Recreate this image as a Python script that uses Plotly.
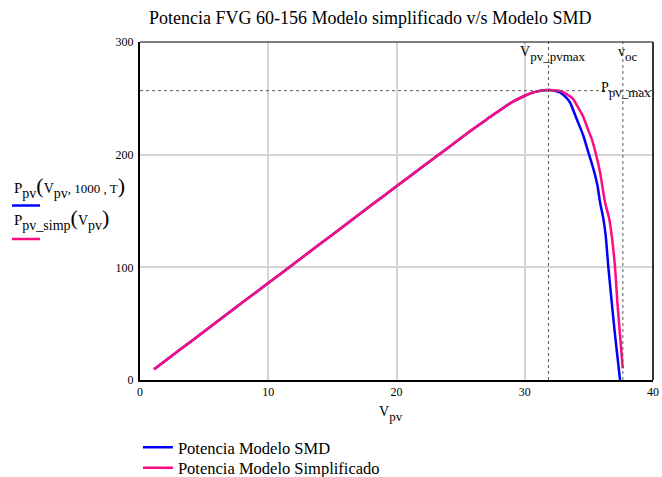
import plotly.graph_objects as go

# ---- data ----
v_rise = [1.1, 2, 4, 6, 8, 10, 12, 14, 16, 18, 20, 22, 24, 26, 27, 28, 29, 30, 30.5, 31, 31.5, 31.9]
p_rise = [9.5, 17.3, 34.5, 51.7, 68.9, 86, 103.2, 120.4, 137.6, 154.8, 172, 189, 206, 223, 231, 239,
          246.5, 252.3, 254.6, 256.2, 257.1, 257.4]

v_smd = v_rise + [32.4, 32.75, 33.2, 33.53, 34.05, 34.57, 34.96, 35.35, 35.67, 35.87, 36.13, 36.31,
                  36.52, 36.78, 37.04, 37.43]
p_smd = p_rise + [256.5, 255.2, 251, 246.3, 231.6, 216.8, 202, 187.4, 172.6, 157.8, 143, 128.3,
                  100, 69.3, 39.8, 0]

v_simp = v_rise + [32.4, 32.75, 33.3, 33.78, 34.2, 34.55, 34.94, 35.22, 35.56, 35.87, 36.26, 36.59,
                   36.78, 37.04, 37.22, 37.43, 37.64]
p_simp = p_rise + [257, 256.6, 253.5, 249.3, 241, 234, 222, 214, 200, 184.4, 157.8, 143,
                   128.3, 100, 69.3, 39.8, 10.3]

vpv_max = 31.85
voc = 37.65
ppv_max = 256.8

x_ticks = [0, 10, 20, 30, 40]
y_ticks = [0, 100, 200, 300]

FONT = "Liberation Serif"

fig = go.Figure()
fig.add_trace(go.Scatter(x=v_smd, y=p_smd, mode="lines", name="Potencia Modelo SMD", legend="legend",
                         line=dict(color="#0000ff", width=2.5, shape="spline", smoothing=0.6)))
fig.add_trace(go.Scatter(x=v_simp, y=p_simp, mode="lines", name="Potencia Modelo Simplificado",
                         legend="legend2",
                         line=dict(color="#ff0a80", width=2.5, shape="spline", smoothing=0.6)))

# marker lines
dot = dict(color="#5a5a5a", width=1, dash="dot")
fig.add_shape(type="line", xref="x", yref="paper", x0=vpv_max, x1=vpv_max, y0=0, y1=1, line=dot)
fig.add_shape(type="line", xref="x", yref="paper", x0=voc, x1=voc, y0=0, y1=1, line=dot)
fig.add_shape(type="line", xref="paper", yref="y", x0=0, x1=1, y0=ppv_max, y1=ppv_max, line=dot)

# frame: thin top, darker right border
fig.add_shape(type="line", xref="paper", yref="paper", x0=0, x1=1, y0=1, y1=1,
              line=dict(color="black", width=1))
fig.add_shape(type="line", xref="paper", yref="paper", x0=1, x1=1, y0=0, y1=1,
              line=dict(color="#333333", width=2))

def sp(t, s):
    return f"<span style='font-size:{s}px'>{t}</span>"

def sub(t, s=13):
    return f"<sub>{sp(t, s)}</sub>"

ann = []
# marker labels
ann.append(dict(text=sp("V", 14) + sub("pv_pvmax"), x=(518 - 140) / 513, y=0.964,
                xref="paper", yref="paper", xanchor="left", yanchor="middle",
                showarrow=False, font=dict(family=FONT, size=26, color="black")))
ann.append(dict(text=sp("v", 14) + sub("oc"), x=(616 - 140) / 513, y=0.964,
                xref="paper", yref="paper", xanchor="left", yanchor="middle",
                showarrow=False, font=dict(family=FONT, size=26, color="black")))
ann.append(dict(text=sp("P", 14) + sub("pv_max"), x=(599 - 140) / 513, y=0.857,
                xref="paper", yref="paper", xanchor="left", yanchor="middle",
                showarrow=False, font=dict(family=FONT, size=26, color="black")))
# x axis title
ann.append(dict(text=sp("V", 14) + sub("pv"), x=(377 - 140) / 513, y=-0.102,
                xref="paper", yref="paper", xanchor="left", yanchor="middle",
                showarrow=False, font=dict(family=FONT, size=26, color="black")))
# left labels
ann.append(dict(text=sp("P", 15) + sub("pv", 14) + "(" + sp("V", 14) + sub("pv", 14)
                + sp(", 1000 , T", 13) + ")",
                x=(12 - 140) / 513, y=0.571,
                xref="paper", yref="paper", xanchor="left", yanchor="middle",
                showarrow=False, font=dict(family=FONT, size=22, color="black")))
ann.append(dict(text=sp("P", 15) + sub("pv_simp", 14) + "(" + sp("V", 14) + sub("pv", 14) + ")",
                x=(12 - 140) / 513, y=0.476,
                xref="paper", yref="paper", xanchor="left", yanchor="middle",
                showarrow=False, font=dict(family=FONT, size=22, color="black")))
# title
ann.append(dict(text="Potencia FVG 60-156 Modelo simplificado v/s Modelo SMD",
                x=(370 - 140) / 513, y=1 + 24 / 338, xref="paper", yref="paper",
                xanchor="center", yanchor="middle", showarrow=False,
                font=dict(family=FONT, size=18, color="black")))

# underline markers of the left labels
fig.add_shape(type="line", xref="paper", yref="paper", x0=(12 - 140) / 513, x1=(40 - 140) / 513,
              y0=(380 - 205.5) / 338, y1=(380 - 205.5) / 338, line=dict(color="#0000ff", width=2.5))
fig.add_shape(type="line", xref="paper", yref="paper", x0=(12 - 140) / 513, x1=(40 - 140) / 513,
              y0=(380 - 239) / 338, y1=(380 - 239) / 338, line=dict(color="#ff0a80", width=2.5))

leg_common = dict(x=-0.004, xanchor="left", yanchor="top", orientation="v",
                  font=dict(family=FONT, size=16.5, color="black"), itemwidth=30,
                  bgcolor="rgba(0,0,0,0)")

fig.update_layout(
    width=662, height=477,
    margin=dict(l=140, r=9, t=42, b=97, autoexpand=False),
    paper_bgcolor="white", plot_bgcolor="white",
    font=dict(family=FONT, size=12, color="black"),
    annotations=ann,
    showlegend=True,
    legend=dict(y=-0.148, **leg_common),
    legend2=dict(y=-0.2085, **leg_common),
    xaxis=dict(range=[0, 40], tickvals=x_ticks, ticktext=[str(t) for t in x_ticks],
               showgrid=True, gridcolor="#d4d4d4", gridwidth=1.5, zeroline=False,
               showline=True, linecolor="black", linewidth=2, mirror=False,
               ticks="", tickfont=dict(family=FONT, size=12)),
    yaxis=dict(range=[0, 300], tickvals=y_ticks, ticktext=[str(t) for t in y_ticks],
               showgrid=True, gridcolor="#d4d4d4", gridwidth=1.5, zeroline=False,
               showline=True, linecolor="black", linewidth=2, mirror=False,
               ticks="", tickfont=dict(family=FONT, size=12), ticklabelstandoff=2),
)

fig.write_html("out.html")
